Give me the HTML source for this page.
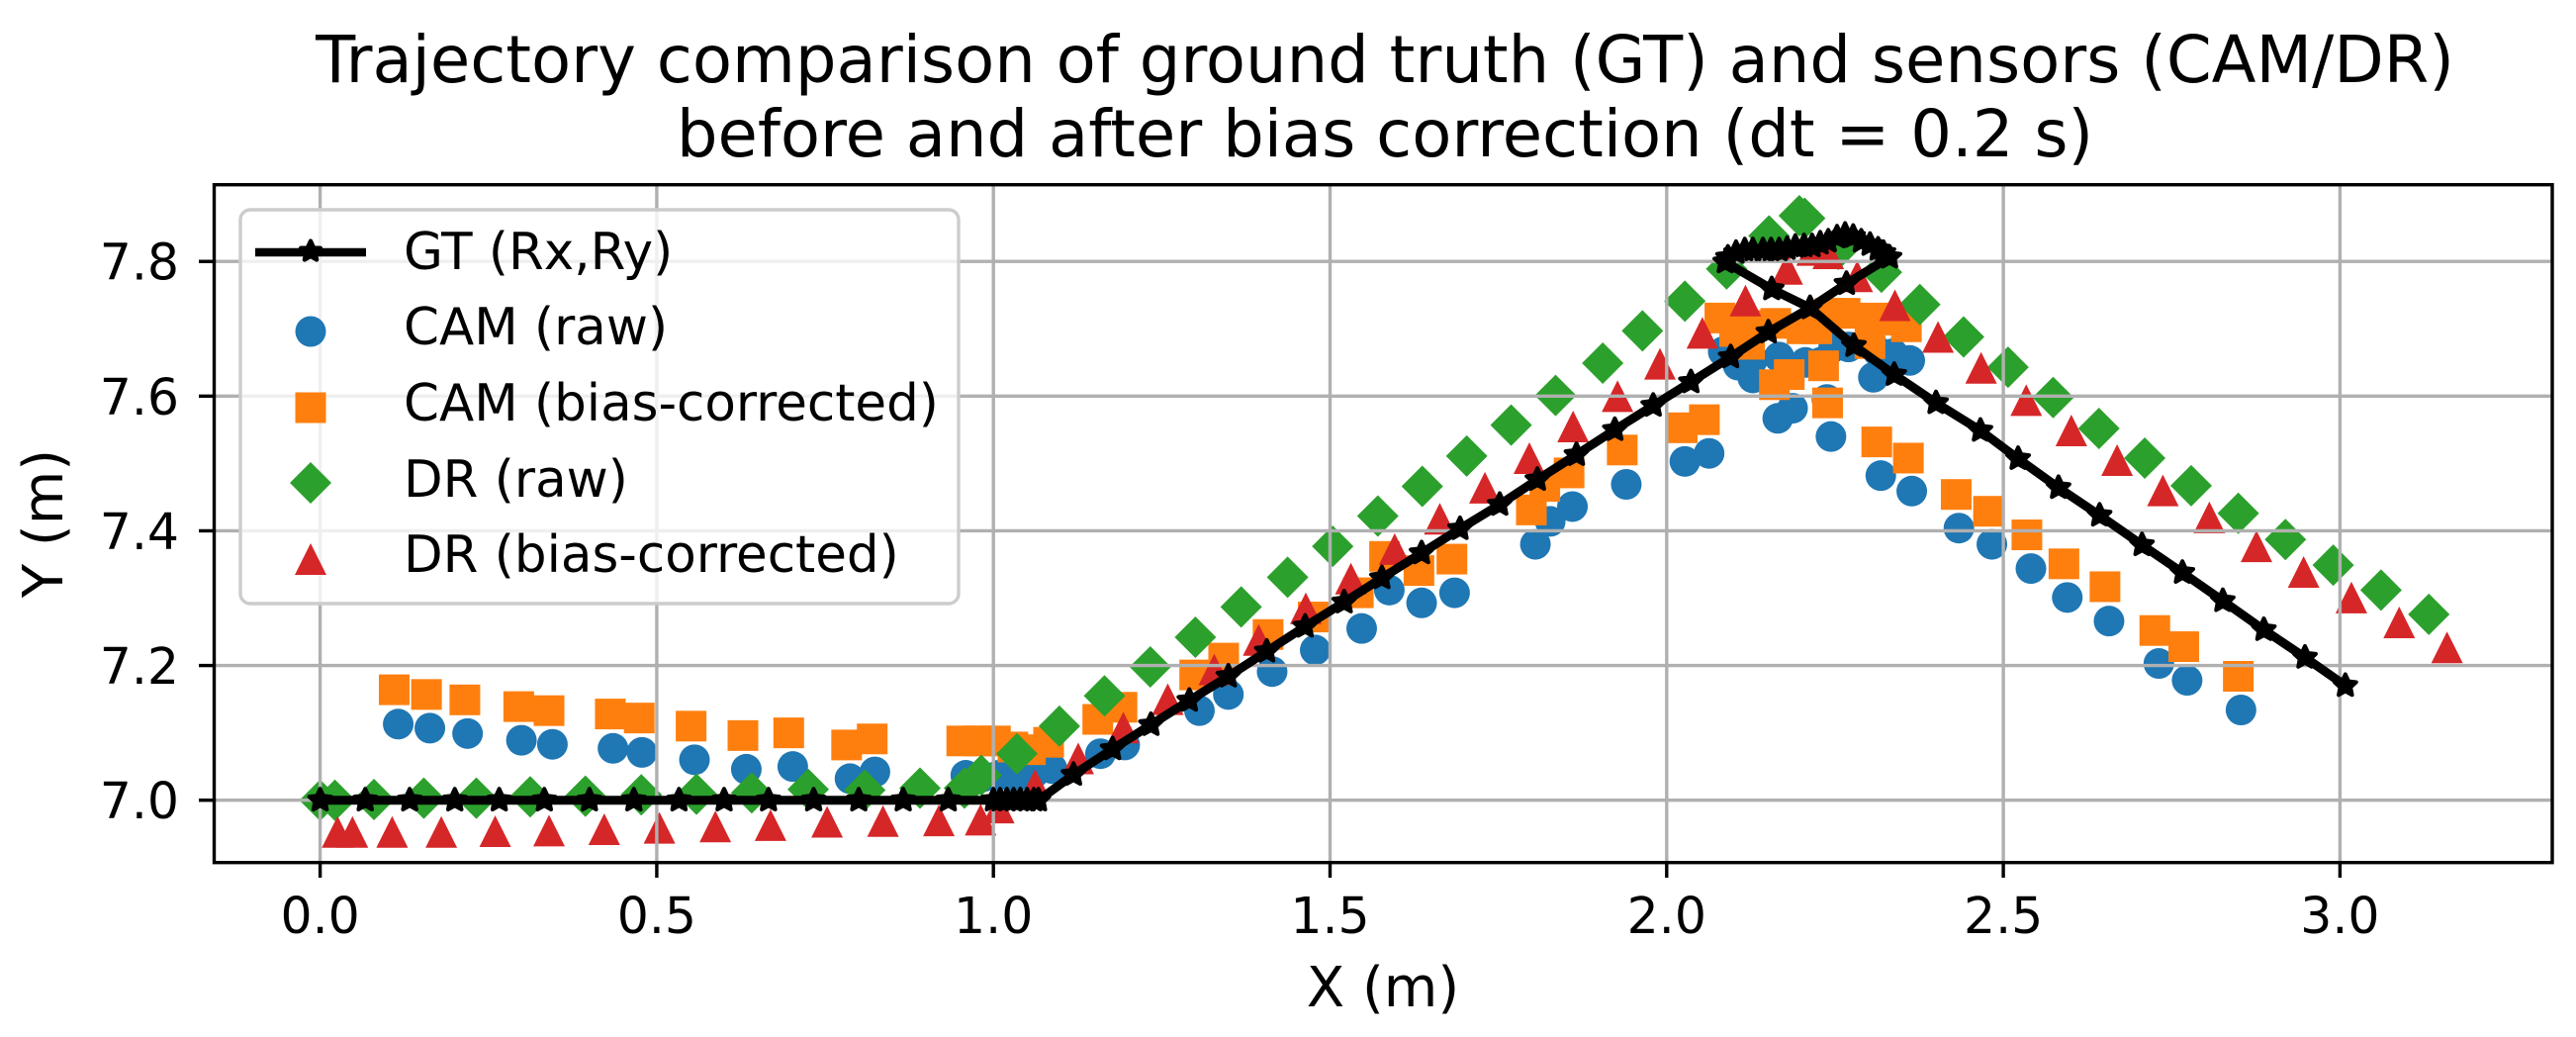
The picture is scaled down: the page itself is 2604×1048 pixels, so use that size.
<!DOCTYPE html>
<html>
<head>
<meta charset="utf-8">
<title>Trajectory comparison</title>
<style>
html,body{margin:0;padding:0;background:#fff;}
svg{display:block;}
text{font-family:"DejaVu Sans","Liberation Sans",sans-serif;fill:#000;}
</style>
</head>
<body>
<svg id="chart" xmlns="http://www.w3.org/2000/svg" width="2604" height="1048" viewBox="0 0 2604 1048">
  <rect x="0" y="0" width="2604" height="1048" fill="#fff"/>
  <text x="1400" y="83" font-size="65.6" text-anchor="middle">Trajectory comparison of ground truth (GT) and sensors (CAM/DR)</text>
  <text x="1400" y="158" font-size="65.6" text-anchor="middle">before and after bias correction (dt = 0.2 s)</text>
  <g id="scatter-layer"></g>
  <g id="grid-layer"></g>
  <g id="gt-layer"></g>
  <rect x="216.5" y="186.7" width="2363.5" height="685" fill="none" stroke="#000" stroke-width="3.4"/>
  <g id="tick-layer"></g>
  <text x="1398" y="1017" font-size="56" text-anchor="middle">X (m)</text>
  <text x="0" y="0" font-size="56" text-anchor="middle" transform="translate(63 529) rotate(-90)">Y (m)</text>
  <g>
    <rect x="243" y="212" width="726" height="398" rx="10" ry="10" fill="#fff" fill-opacity="0.8" stroke="#ccc" stroke-width="3.4"/>
    <line x1="258" y1="255" x2="370" y2="255" stroke="#000" stroke-width="8.6"/>
    <polygon id="legend-gt-star" fill="#000" stroke="#000" stroke-width="4.2" stroke-linejoin="round"/>
    <circle cx="314" cy="335" r="15.5" fill="#1f77b4"/>
    <rect x="298.500" y="396.500" width="31" height="31" fill="#ff7f0e"/>
    <polygon points="314,467 335,488 314,509 293,488" fill="#2ca02c"/>
    <polygon points="314,549 330,581 298,581" fill="#d62728"/>
    <text x="408" y="272" font-size="51.5">GT (Rx,Ry)</text>
    <text x="408" y="348" font-size="51.5">CAM (raw)</text>
    <text x="408" y="425" font-size="51.5">CAM (bias-corrected)</text>
    <text x="408" y="502" font-size="51.5">DR (raw)</text>
    <text x="408" y="578" font-size="51.5">DR (bias-corrected)</text>
  </g>
</svg>
<script>
const xTicks = [0, 0.5, 1, 1.5, 2, 2.5, 3];
const xTickLabels = ["0.0", "0.5", "1.0", "1.5", "2.0", "2.5", "3.0"];
const yTicks = [7, 7.2, 7.4, 7.6, 7.8];
const yTickLabels = ["7.0", "7.2", "7.4", "7.6", "7.8"];

const gtX = [0,.067,.133,.2,.266,.333,.4,.466,.533,.6,.666,.733,.8,.866,.933,1,1.01,1.02,1.03,1.04,1.05,1.06,1.067,1.119,1.177,1.234,1.291,1.349,1.406,1.463,1.521,1.577,1.636,1.693,1.752,1.808,1.866,1.923,1.98,2.036,2.095,2.151,2.213,2.267,2.331,2.322,2.314,2.302,2.289,2.277,2.265,2.253,2.24,2.228,2.216,2.204,2.191,2.179,2.167,2.155,2.143,2.128,2.116,2.103,2.091,2.087,2.156,2.213,2.278,2.338,2.4,2.466,2.522,2.582,2.643,2.706,2.766,2.826,2.887,2.948,3.008];
const gtY = [7,7,7,7,7,7,7,7,7,7,7,7,7,7,7,7,7,7,7,7,7,7,7,7.038,7.076,7.112,7.148,7.184,7.221,7.258,7.294,7.33,7.367,7.403,7.439,7.476,7.513,7.55,7.586,7.621,7.658,7.695,7.731,7.767,7.806,7.813,7.818,7.825,7.83,7.837,7.84,7.836,7.83,7.827,7.823,7.823,7.822,7.819,7.817,7.817,7.817,7.817,7.817,7.813,7.806,7.799,7.759,7.731,7.675,7.632,7.59,7.549,7.507,7.464,7.423,7.379,7.338,7.296,7.253,7.212,7.17];

const camRawX = [.116,.163,.219,.299,.345,.435,.478,.556,.633,.702,.787,.824,.959,.985,1.008,1.034,1.06,1.087,1.159,1.195,1.306,1.349,1.414,1.478,1.547,1.588,1.636,1.685,1.805,1.827,1.86,1.94,2.027,2.063,2.084,2.106,2.128,2.128,2.167,2.206,2.228,2.248,2.27,2.314,2.307,2.336,2.361,2.165,2.187,2.238,2.244,2.318,2.364,2.434,2.483,2.541,2.595,2.657,2.731,2.773,2.853];
const camRawY = [7.113,7.107,7.099,7.089,7.083,7.077,7.071,7.06,7.046,7.05,7.032,7.042,7.037,7.035,7.037,7.035,7.04,7.047,7.069,7.082,7.133,7.157,7.191,7.223,7.255,7.312,7.293,7.308,7.38,7.414,7.436,7.469,7.503,7.515,7.666,7.646,7.627,7.655,7.658,7.65,7.65,7.673,7.673,7.666,7.628,7.663,7.653,7.567,7.582,7.595,7.54,7.482,7.459,7.404,7.38,7.344,7.301,7.266,7.203,7.178,7.134];

const camFixX = [.11,.158,.215,.295,.34,.431,.474,.551,.628,.696,.782,.82,.953,.98,1.003,1.029,1.055,1.082,1.155,1.191,1.299,1.342,1.408,1.475,1.542,1.581,1.632,1.681,1.799,1.819,1.855,1.934,2.023,2.056,2.079,2.101,2.123,2.123,2.162,2.201,2.223,2.243,2.265,2.309,2.302,2.331,2.356,2.16,2.182,2.233,2.239,2.312,2.359,2.43,2.478,2.535,2.59,2.651,2.725,2.768,2.849];
const camFixY = [7.164,7.157,7.149,7.139,7.133,7.128,7.122,7.11,7.096,7.1,7.082,7.091,7.088,7.088,7.088,7.079,7.075,7.086,7.12,7.138,7.186,7.211,7.246,7.272,7.308,7.362,7.341,7.358,7.431,7.466,7.486,7.52,7.553,7.565,7.716,7.696,7.677,7.705,7.708,7.7,7.7,7.723,7.723,7.716,7.678,7.713,7.703,7.617,7.632,7.645,7.59,7.532,7.508,7.454,7.429,7.394,7.351,7.317,7.252,7.228,7.184];

const drRawX = [0,.022,.08,.154,.232,.312,.394,.477,.559,.641,.725,.809,.891,.957,.982,1.035,1.098,1.165,1.233,1.3,1.368,1.437,1.504,1.571,1.637,1.703,1.769,1.835,1.905,1.964,2.027,2.089,2.152,2.197,2.205,2.255,2.319,2.376,2.441,2.507,2.574,2.642,2.71,2.779,2.849,2.919,2.99,3.061,3.132];
const drRawY = [7,7,7.001,7.003,7.003,7.005,7.006,7.008,7.009,7.011,7.016,7.015,7.018,7.018,7.037,7.069,7.11,7.155,7.198,7.242,7.287,7.331,7.377,7.422,7.466,7.511,7.557,7.601,7.649,7.697,7.741,7.789,7.838,7.868,7.864,7.818,7.784,7.736,7.688,7.643,7.598,7.552,7.508,7.467,7.426,7.387,7.349,7.312,7.276];

const drFixX = [.026,.048,.107,.18,.26,.34,.422,.504,.587,.669,.753,.836,.919,.981,1.008,1.062,1.126,1.193,1.259,1.328,1.394,1.464,1.531,1.596,1.663,1.73,1.796,1.861,1.927,1.99,2.053,2.117,2.179,2.216,2.24,2.283,2.339,2.403,2.467,2.534,2.601,2.669,2.737,2.806,2.876,2.946,3.017,3.088,3.159];
const drFixY = [6.953,6.953,6.953,6.953,6.954,6.955,6.957,6.959,6.961,6.963,6.968,6.969,6.97,6.971,6.989,7.023,7.062,7.108,7.15,7.194,7.238,7.285,7.329,7.373,7.418,7.464,7.508,7.555,7.6,7.648,7.694,7.742,7.789,7.817,7.812,7.778,7.735,7.688,7.642,7.594,7.549,7.505,7.46,7.42,7.377,7.339,7.301,7.264,7.227];

const NS = "http://www.w3.org/2000/svg";
function sx(v) { return 323.6 + 680.6 * v; }
function sy(v) { return 808.7 - 680.6 * (v - 7); }
function make(tag, attrs, parent) {
  const el = document.createElementNS(NS, tag);
  for (const k in attrs) el.setAttribute(k, attrs[k]);
  parent.appendChild(el);
  return el;
}
function starPoints(cx, cy, R) {
  const pts = [];
  for (let i = 0; i < 10; i++) {
    const r = i % 2 ? R * 0.48 : R;
    const a = -Math.PI / 2 + i * Math.PI / 5;
    pts.push((cx + r * Math.cos(a)).toFixed(2) + "," + (cy + r * Math.sin(a)).toFixed(2));
  }
  return pts.join(" ");
}
const scatterLayer = document.getElementById("scatter-layer");
const gridLayer = document.getElementById("grid-layer");
const gtLayer = document.getElementById("gt-layer");
const tickLayer = document.getElementById("tick-layer");

camRawX.forEach(function (v, i) {
  const el = make("circle", { cx: sx(v), cy: sy(camRawY[i]), r: 15.5, fill: "#1f77b4" }, scatterLayer);
  
  
});
camFixX.forEach(function (v, i) {
  const el = make("rect", { x: sx(v) - 15.5, y: sy(camFixY[i]) - 15.5, width: 31, height: 31, fill: "#ff7f0e" }, scatterLayer);
  
  
});
drRawX.forEach(function (v, i) {
  const x = sx(v), y = sy(drRawY[i]), d = 21;
  const el = make("polygon", { points: x + "," + (y - d) + " " + (x + d) + "," + y + " " + x + "," + (y + d) + " " + (x - d) + "," + y, fill: "#2ca02c" }, scatterLayer);
  
  
});
drFixX.forEach(function (v, i) {
  const x = sx(v), y = sy(drFixY[i]);
  const el = make("polygon", { points: x + "," + (y - 16) + " " + (x + 16) + "," + (y + 16) + " " + (x - 16) + "," + (y + 16), fill: "#d62728" }, scatterLayer);
  
  
});

xTicks.forEach(function (v, i) {
  const x = sx(v);
  const g = make("line", { x1: x, x2: x, y1: 186.7, y2: 871.7, stroke: "#b0b0b0", "stroke-width": 3.4 }, gridLayer);
  
  
  const t = make("line", { x1: x, x2: x, y1: 871.7, y2: 887, stroke: "#000", "stroke-width": 3.4 }, tickLayer);
  
  
  const l = make("text", { x: x, y: 943, "font-size": 50.5, "text-anchor": "middle" }, tickLayer);
  l.textContent = xTickLabels[i];
  
  
});
yTicks.forEach(function (v, i) {
  const y = sy(v);
  const g = make("line", { x1: 216.5, x2: 2580, y1: y, y2: y, stroke: "#b0b0b0", "stroke-width": 3.4 }, gridLayer);
  
  
  const t = make("line", { x1: 201, x2: 216.5, y1: y, y2: y, stroke: "#000", "stroke-width": 3.4 }, tickLayer);
  
  
  const l = make("text", { x: 181, y: y + 18.5, "font-size": 50.5, "text-anchor": "end" }, tickLayer);
  l.textContent = yTickLabels[i];
  
  
});

const gtPath = make("polyline", { points: gtX.map(function (v, i) { return sx(v) + "," + sy(gtY[i]); }).join(" "), fill: "none", stroke: "#000", "stroke-width": 9, "stroke-linejoin": "round" }, gtLayer);


gtX.forEach(function (v, i) {
  const el = make("polygon", { points: starPoints(sx(v), sy(gtY[i]), 11.5), fill: "#000", stroke: "#000", "stroke-width": 4, "stroke-linejoin": "round" }, gtLayer);
  
  
});
document.getElementById("legend-gt-star").setAttribute("points", starPoints(314, 254, 10.5));
</script>
</body>
</html>
